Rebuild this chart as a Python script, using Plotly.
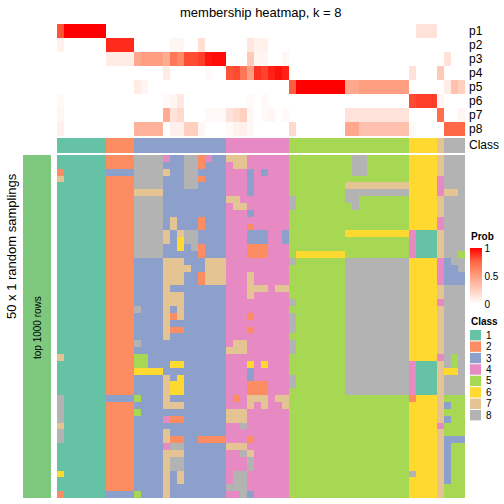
import plotly.graph_objects as go

W = H = 504

# ---------------- data ----------------
class_names = ["1", "2", "3", "4", "5", "6", "7", "8"]
class_colors = ["#66C2A5", "#FC8D62", "#8DA0CB", "#E78AC3",
                "#A6D854", "#FFD92F", "#E5C494", "#B3B3B3"]

# consensus class of every column (58 samples)
column_class = [1]*7 + [2]*4 + [3]*13 + [4]*9 + [5]*17 + [6]*4 + [7] + [8]*3

prob_labels = ["p1", "p2", "p3", "p4", "p5", "p6", "p7", "p8"]
# groups: G1(7) | G2(4) | G3(13) | G4(9) | G5(17) | G6(4) | G7(1) | G8(3)
p1 = ([0.8, 1, 1, 1, 1, 1, 1] + [0, 0, 0, 0] + [0]*13 + [0]*9 + [0]*17
      + [0, 0.15, 0.15, 0.15] + [0] + [0, 0, 0])
p2 = ([0.07, 0, 0, 0, 0, 0, 0] + [0.9, 0.9, 0.9, 0.9]
      + [0, 0, 0, 0, 0, 0.05, 0.05, 0, 0, 0.17, 0, 0, 0]
      + [0, 0, 0, 0.13, 0.07, 0.07, 0, 0, 0] + [0]*17 + [0]*4 + [0] + [0, 0, 0])
p3 = ([0]*7 + [0.1, 0.1, 0.1, 0.1]
      + [0.45, 0.5, 0.5, 0.5, 0.43, 0.68, 0.6, 0.82, 0.82, 0.85, 0.95, 0.97, 0.97]
      + [0, 0, 0, 0.28, 0.05, 0.05, 0, 0, 0.04] + [0]*17 + [0]*4 + [0]
      + [0.15, 0, 0])
p4 = ([0]*7 + [0]*4 + [0, 0, 0, 0, 0.1, 0, 0, 0, 0, 0, 0.03, 0, 0]
      + [0.8, 0.82, 0.68, 0.5, 0.88, 0.84, 0.92, 0.96, 0.92] + [0]*17
      + [0.15, 0, 0, 0] + [0.28] + [0, 0, 0])
p5 = ([0]*7 + [0]*4 + [0.1, 0.05, 0, 0] + [0]*9 + [0]*9
      + [0.78, 1, 1, 1, 1, 1, 1, 1, 0.45, 0.45, 0.5, 0.5, 0.5, 0.5, 0.5, 0.5, 0.5]
      + [0]*4 + [0] + [0.1, 0.32, 0.25])
p6 = ([0.03, 0, 0, 0, 0, 0, 0] + [0]*4
      + [0, 0, 0, 0, 0.03, 0.05, 0.12, 0, 0, 0, 0, 0, 0]
      + [0, 0, 0, 0.03, 0, 0.03, 0, 0, 0] + [0]*17
      + [0.82, 0.85, 0.85, 0.85] + [0.05] + [0, 0, 0])
p7 = ([0.05, 0, 0, 0, 0, 0, 0] + [0]*4
      + [0, 0, 0, 0, 0.43, 0.15, 0.2, 0, 0, 0, 0.03, 0.03, 0.03]
      + [0.15, 0.2, 0.25, 0.04, 0, 0.03, 0.05, 0, 0.03]
      + [0]*8 + [0.15]*9 + [0]*4 + [0.72] + [0, 0, 0.05])
p8 = ([0.08, 0, 0, 0, 0, 0, 0] + [0]*4
      + [0.4, 0.4, 0.4, 0.4, 0, 0.08, 0.08, 0.25, 0.25, 0.04, 0, 0, 0]
      + [0.03, 0.06, 0.08, 0.04, 0, 0, 0, 0, 0]
      + [0.2, 0, 0, 0, 0, 0, 0, 0, 0.45, 0.45, 0.32, 0.32, 0.32, 0.32, 0.32, 0.32, 0.32]
      + [0.03, 0, 0, 0] + [0] + [0.75, 0.75, 0.75])

# class assignment in each of the 50 random samplings (rows) per sample (columns)
sampling_rows = [
    "1111111 2222 8888433882433 777444444 55555555588555555 6666 7 888",
    "1111111 2222 8888333882333 477444444 55555555588555555 6666 7 888",
    "2111111 3333 8888733883333 444343444 55555555588555555 6666 7 888",
    "7111111 2222 8888333882333 444344444 55555555555555555 6666 4 888",
    "1111111 2222 8888333883333 444344444 55555555777777777 6666 4 888",
    "1111111 2222 7777333333333 444344444 55555555888888888 6666 4 778",
    "1111111 2222 8888333333333 774444444 85555555885555555 6666 7 888",
    "1111111 2222 8888333333333 477444444 85555555585555555 6666 7 888",
    "1111111 2222 8888333333333 444344444 55555555555555555 6666 7 888",
    "1111111 2222 8888373332333 444444444 55555555555555555 6666 4 888",
    "1111111 2222 8888373332333 444244444 55555555555555555 6666 4 888",
    "1111111 2222 8888737883333 444333443 55555555666666666 4111 7 888",
    "1111111 2222 8888736883333 444333443 55555555555555555 4111 7 888",
    "1111111 2222 8888336382333 444222444 55555555555555555 4111 7 888",
    "1111111 2222 8888333332333 444222444 56666666555555555 4111 7 885",
    "1111111 2222 3333777333777 444444444 85555555888888888 6666 4 388",
    "1111111 2222 3333777733777 444444444 55555555888888888 6666 4 338",
    "1111111 2222 3333777332777 444744444 55555555888888888 6666 4 333",
    "1111111 2222 3333777332777 444744444 55555555888888888 6666 4 333",
    "1111111 2222 3333733333333 444777477 55555555888888888 6666 7 888",
    "1111111 2222 3333777333333 444744444 55555555888888888 6666 7 888",
    "1111111 2222 3333777333333 444444444 85555555888888888 6666 4 888",
    "1111111 2222 8333737333333 444444444 55555555888888888 6666 7 888",
    "1111111 2222 3333727333333 444244444 85555555888888888 6666 7 888",
    "1111111 2222 3333733333333 444444444 85555555888888888 6666 7 888",
    "1111111 2222 3333722333333 444244444 85555555888888888 6666 7 888",
    "1111111 2222 3333733333333 444444444 55555555888888888 6666 7 888",
    "1111111 2222 8333333333333 477444444 85555555888888888 6666 7 888",
    "1111111 2222 3333333333333 777444444 85555555888888888 6666 7 888",
    "7111111 2222 5533333333333 444444444 55555555888888888 6666 4 858",
    "1111111 2222 5533366333333 444646444 55555555888888888 4111 7 858",
    "1111111 2222 6666333333333 444344444 55555555888888888 4111 7 668",
    "1111111 2222 3333736333333 444344444 85555555888888888 4111 7 888",
    "1111111 2222 3333766333333 444222444 85555555888888888 4111 7 888",
    "1111111 2222 3333766333333 444222444 55555555888888888 4111 7 888",
    "8111111 3333 5333733333333 424777477 55555555555555555 2666 7 555",
    "8111111 2222 3333777333333 444747447 55555555555555555 6666 7 355",
    "8111111 2222 5333333333333 777444444 55555555555555555 6666 7 555",
    "8111111 2222 3333422333333 777444444 55555555555555555 6666 7 355",
    "7111111 2222 3333333333333 448444444 55555555555555555 6666 4 555",
    "8111111 2222 3333733333333 444444444 55555555555555555 6666 7 555",
    "8111111 2222 3333722332222 444244444 55555555555555555 6666 7 333",
    "1111111 2222 3333488333333 777444444 55555555555555555 6666 7 355",
    "1111111 2222 3333777333333 448744444 55555555555555555 6666 7 355",
    "1111111 2222 3333788333333 444844444 55555555555555555 6666 7 355",
    "1111111 2222 3333788333333 444844444 55555555555555555 6666 7 355",
    "6111111 2222 3333737333333 488444444 55555555555555555 8666 7 355",
    "1111111 2222 3333737333333 488444444 55555555555555555 6666 7 355",
    "1111111 2222 3333733333333 888444444 55555555555555555 6666 7 555",
    "2111111 3333 5333733333333 448344444 55555555555555555 6666 7 555",
]

# ---------------- build matrices ----------------
n_col = len(column_class)
prob_z = [p1, p2, p3, p4, p5, p6, p7, p8]
for r in prob_z:
    assert len(r) == n_col, len(r)
samp_z = []
for s in sampling_rows:
    row = [int(ch) for ch in s.replace(" ", "")]
    assert len(row) == n_col, (s, len(row))
    samp_z.append(row)

cols = list(range(n_col))

# LAB-like white -> red ramp
prob_scale = [[0, "#FFFFFF"], [0.25, "#FFCFBF"], [0.5, "#FF9E81"],
              [0.75, "#FF6846"], [1, "#FF0000"]]
class_scale = []
for i, c in enumerate(class_colors):
    class_scale.append([i / 8, c])
    class_scale.append([(i + 1) / 8, c])


def px(x):
    return x / W


def py(y):
    return 1 - y / H


X0, X1 = 57, 465
fig = go.Figure()

fig.add_trace(go.Heatmap(
    z=prob_z, x=cols, y=list(range(8)), colorscale=prob_scale, zmin=0, zmax=1,
    xaxis="x", yaxis="y", hoverinfo="skip",
    colorbar=dict(lenmode="pixels", len=56, thickness=12, thicknessmode="pixels",
                  x=px(470), xanchor="left", xpad=0, y=py(276), yanchor="middle",
                  ypad=0, outlinewidth=0, tickvals=[0, 0.5, 1],
                  ticktext=["0", "0.5", "1"], ticks="",
                  tickfont=dict(size=10, color="#000000"))))

fig.add_trace(go.Heatmap(
    z=[column_class], x=cols, y=[0], colorscale=class_scale, zmin=0.5, zmax=8.5,
    xaxis="x", yaxis="y2", showscale=False, hoverinfo="skip"))

fig.add_trace(go.Heatmap(
    z=samp_z, x=cols, y=list(range(len(samp_z))), colorscale=class_scale,
    zmin=0.5, zmax=8.5, xaxis="x", yaxis="y3", showscale=False, hoverinfo="skip"))

ax_hidden = dict(visible=False, showgrid=False, zeroline=False, fixedrange=True)

shapes = [dict(type="rect", xref="paper", yref="paper",
               x0=px(23), x1=px(51), y0=py(498), y1=py(155),
               fillcolor="#7FC97F", line=dict(width=0), layer="below")]

annotations = [
    dict(text="membership heatmap, k = 8", x=px(261), y=py(12), xref="paper",
         yref="paper", showarrow=False, font=dict(size=13), xanchor="center",
         yanchor="middle"),
    dict(text="50 x 1 random samplings", x=px(11), y=py(246), xref="paper",
         yref="paper", showarrow=False, textangle=-90, font=dict(size=13),
         xanchor="center", yanchor="middle"),
    dict(text="top 1000 rows", x=px(37), y=py(328), xref="paper", yref="paper",
         showarrow=False, textangle=-90, font=dict(size=10),
         xanchor="center", yanchor="middle"),
    dict(text="Class", x=px(467), y=py(145), xref="paper", yref="paper",
         showarrow=False, font=dict(size=12), xanchor="left", yanchor="middle"),
    dict(text="<b>Prob</b>", x=px(469), y=py(236), xref="paper", yref="paper",
         showarrow=False, font=dict(size=10), xanchor="left", yanchor="middle"),
    dict(text="<b>Class</b>", x=px(469), y=py(321), xref="paper", yref="paper",
         showarrow=False, font=dict(size=10), xanchor="left", yanchor="middle"),
]
for i, lab in enumerate(prob_labels):
    annotations.append(dict(text=lab, x=px(467), y=py(31 + 14 * i), xref="paper",
                            yref="paper", showarrow=False, font=dict(size=12),
                            xanchor="left", yanchor="middle"))
for i, (lab, c) in enumerate(zip(class_names, class_colors)):
    top = 330 + 11.43 * i
    shapes.append(dict(type="rect", xref="paper", yref="paper",
                       x0=px(470), x1=px(481), y0=py(top + 10.4), y1=py(top),
                       fillcolor=c, line=dict(width=0)))
    annotations.append(dict(text=lab, x=px(484), y=py(top + 5.2), xref="paper",
                            yref="paper", showarrow=False, font=dict(size=10),
                            xanchor="left", yanchor="middle"))

fig.update_layout(
    width=W, height=H, margin=dict(l=0, r=0, t=0, b=0),
    paper_bgcolor="white", plot_bgcolor="white",
    font=dict(family="Liberation Sans, Arial, sans-serif", color="#000000"),
    showlegend=False,
    xaxis=dict(domain=[px(X0), px(X1)], range=[-0.5, n_col - 0.5], **ax_hidden),
    yaxis=dict(domain=[py(136), py(24)], range=[7.5, -0.5], anchor="x", **ax_hidden),
    yaxis2=dict(domain=[py(153), py(138)], range=[0.5, -0.5], anchor="x", **ax_hidden),
    yaxis3=dict(domain=[py(498), py(155)], range=[len(samp_z) - 0.5, -0.5],
                anchor="x", **ax_hidden),
    shapes=shapes, annotations=annotations,
)

fig.write_html("out.html", config={"displayModeBar": False},
               post_script="document.body.style.margin='0px';"
                           "document.body.style.overflow='hidden';")
